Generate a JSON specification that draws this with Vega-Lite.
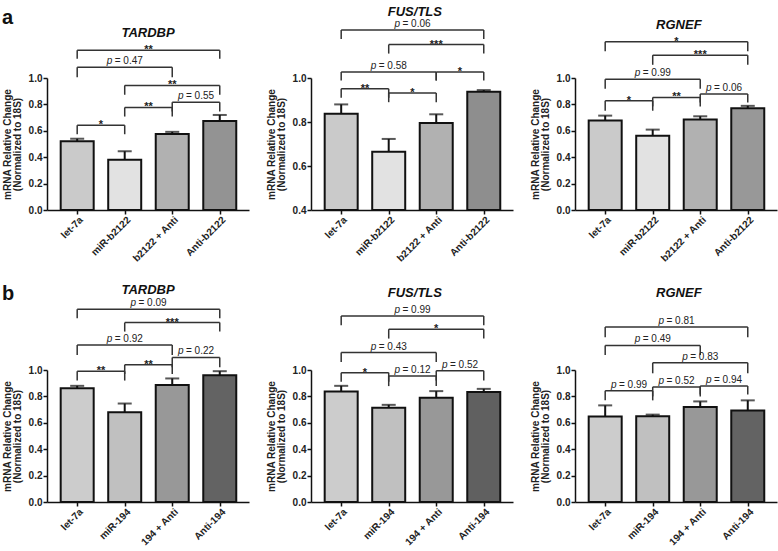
{
  "$schema": "https://vega.github.io/schema/vega-lite/v6.json",
  "padding": {"left": 2, "top": 6, "right": 2, "bottom": 2},
  "config": {
    "font": "Liberation Sans",
    "view": {"stroke": null},
    "axis": {"grid": false, "domainColor": "#111", "tickColor": "#111", "domainWidth": 1.5, "tickWidth": 1.5, "labelColor": "#222", "titleColor": "#222", "labelOverlap": false},
    "title": {"color": "#111"}
  },
  "datasets": {
    "bars": [
      {"panel": "a1", "g": 1, "grp": "let-7a", "m": 0.52, "hi": 0.54},
      {"panel": "a1", "g": 2, "grp": "miR-b2122", "m": 0.38, "hi": 0.445},
      {"panel": "a1", "g": 3, "grp": "b2122 + Anti", "m": 0.575, "hi": 0.592},
      {"panel": "a1", "g": 4, "grp": "Anti-b2122", "m": 0.675, "hi": 0.72},
      {"panel": "a2", "g": 1, "grp": "let-7a", "m": 0.837, "hi": 0.88},
      {"panel": "a2", "g": 2, "grp": "miR-b2122", "m": 0.665, "hi": 0.723},
      {"panel": "a2", "g": 3, "grp": "b2122 + Anti", "m": 0.795, "hi": 0.835},
      {"panel": "a2", "g": 4, "grp": "Anti-b2122", "m": 0.938, "hi": 0.945},
      {"panel": "a3", "g": 1, "grp": "let-7a", "m": 0.678, "hi": 0.715},
      {"panel": "a3", "g": 2, "grp": "miR-b2122", "m": 0.563, "hi": 0.609},
      {"panel": "a3", "g": 3, "grp": "b2122 + Anti", "m": 0.685, "hi": 0.71},
      {"panel": "a3", "g": 4, "grp": "Anti-b2122", "m": 0.77, "hi": 0.789},
      {"panel": "b1", "g": 1, "grp": "let-7a", "m": 0.862, "hi": 0.88},
      {"panel": "b1", "g": 2, "grp": "miR-194", "m": 0.68, "hi": 0.746},
      {"panel": "b1", "g": 3, "grp": "194 + Anti", "m": 0.886, "hi": 0.936},
      {"panel": "b1", "g": 4, "grp": "Anti-194", "m": 0.96, "hi": 0.991},
      {"panel": "b2", "g": 1, "grp": "let-7a", "m": 0.838, "hi": 0.88},
      {"panel": "b2", "g": 2, "grp": "miR-194", "m": 0.714, "hi": 0.736},
      {"panel": "b2", "g": 3, "grp": "194 + Anti", "m": 0.79, "hi": 0.84},
      {"panel": "b2", "g": 4, "grp": "Anti-194", "m": 0.834, "hi": 0.857},
      {"panel": "b3", "g": 1, "grp": "let-7a", "m": 0.648, "hi": 0.732},
      {"panel": "b3", "g": 2, "grp": "miR-194", "m": 0.65, "hi": 0.662},
      {"panel": "b3", "g": 3, "grp": "194 + Anti", "m": 0.719, "hi": 0.762},
      {"panel": "b3", "g": 4, "grp": "Anti-194", "m": 0.694, "hi": 0.77}
    ],
    "br": [
      {"panel": "a1", "id": 1, "from": 1, "to": 4, "h": 1.21, "low": 1.145, "p": "", "lab": "**"},
      {"panel": "a1", "id": 2, "from": 1, "to": 3, "h": 1.081, "low": 1.005, "p": "p", "lab": "= 0.47"},
      {"panel": "a1", "id": 3, "from": 2, "to": 4, "h": 0.944, "low": 0.873, "p": "", "lab": "**"},
      {"panel": "a1", "id": 4, "from": 3, "to": 4, "h": 0.817, "low": 0.746, "p": "p", "lab": "= 0.55"},
      {"panel": "a1", "id": 5, "from": 2, "to": 3, "h": 0.777, "low": 0.708, "p": "", "lab": "**"},
      {"panel": "a1", "id": 6, "from": 1, "to": 2, "h": 0.642, "low": 0.574, "p": "", "lab": "*"},
      {"panel": "a2", "id": 1, "from": 1, "to": 4, "h": 1.218, "low": 1.177, "p": "p", "lab": "= 0.06"},
      {"panel": "a2", "id": 2, "from": 2, "to": 4, "h": 1.152, "low": 1.111, "p": "", "lab": "***"},
      {"panel": "a2", "id": 3, "from": 1, "to": 3, "h": 1.027, "low": 0.989, "p": "p", "lab": "= 0.58"},
      {"panel": "a2", "id": 4, "from": 3, "to": 4, "h": 1.027, "low": 0.989, "p": "", "lab": "*"},
      {"panel": "a2", "id": 5, "from": 1, "to": 2, "h": 0.951, "low": 0.91, "p": "", "lab": "**"},
      {"panel": "a2", "id": 6, "from": 2, "to": 3, "h": 0.932, "low": 0.89, "p": "", "lab": "*"},
      {"panel": "a3", "id": 1, "from": 1, "to": 4, "h": 1.274, "low": 1.203, "p": "", "lab": "*"},
      {"panel": "a3", "id": 2, "from": 2, "to": 4, "h": 1.173, "low": 1.1, "p": "", "lab": "***"},
      {"panel": "a3", "id": 3, "from": 1, "to": 3, "h": 0.99, "low": 0.919, "p": "p", "lab": "= 0.99"},
      {"panel": "a3", "id": 4, "from": 3, "to": 4, "h": 0.878, "low": 0.815, "p": "p", "lab": "= 0.06"},
      {"panel": "a3", "id": 5, "from": 1, "to": 2, "h": 0.828, "low": 0.752, "p": "", "lab": "*"},
      {"panel": "a3", "id": 6, "from": 2, "to": 3, "h": 0.853, "low": 0.785, "p": "", "lab": "**"},
      {"panel": "b1", "id": 1, "from": 1, "to": 4, "h": 1.461, "low": 1.392, "p": "p", "lab": "= 0.09"},
      {"panel": "b1", "id": 2, "from": 2, "to": 4, "h": 1.359, "low": 1.291, "p": "", "lab": "***"},
      {"panel": "b1", "id": 3, "from": 1, "to": 3, "h": 1.19, "low": 1.114, "p": "p", "lab": "= 0.92"},
      {"panel": "b1", "id": 4, "from": 3, "to": 4, "h": 1.095, "low": 1.02, "p": "p", "lab": "= 0.22"},
      {"panel": "b1", "id": 5, "from": 1, "to": 2, "h": 0.99, "low": 0.92, "p": "", "lab": "**"},
      {"panel": "b1", "id": 6, "from": 2, "to": 3, "h": 1.04, "low": 0.97, "p": "", "lab": "**"},
      {"panel": "b2", "id": 1, "from": 1, "to": 4, "h": 1.41, "low": 1.339, "p": "p", "lab": "= 0.99"},
      {"panel": "b2", "id": 2, "from": 2, "to": 4, "h": 1.309, "low": 1.238, "p": "", "lab": "*"},
      {"panel": "b2", "id": 3, "from": 1, "to": 3, "h": 1.132, "low": 1.061, "p": "p", "lab": "= 0.43"},
      {"panel": "b2", "id": 4, "from": 1, "to": 2, "h": 0.98, "low": 0.911, "p": "", "lab": "*"},
      {"panel": "b2", "id": 5, "from": 2, "to": 3, "h": 0.954, "low": 0.878, "p": "p", "lab": "= 0.12"},
      {"panel": "b2", "id": 6, "from": 3, "to": 4, "h": 0.995, "low": 0.92, "p": "p", "lab": "= 0.52"},
      {"panel": "b3", "id": 1, "from": 1, "to": 4, "h": 1.326, "low": 1.249, "p": "p", "lab": "= 0.81"},
      {"panel": "b3", "id": 2, "from": 1, "to": 3, "h": 1.186, "low": 1.114, "p": "p", "lab": "= 0.49"},
      {"panel": "b3", "id": 3, "from": 2, "to": 4, "h": 1.055, "low": 0.975, "p": "p", "lab": "= 0.83"},
      {"panel": "b3", "id": 4, "from": 1, "to": 2, "h": 0.842, "low": 0.77, "p": "p", "lab": "= 0.99"},
      {"panel": "b3", "id": 5, "from": 2, "to": 3, "h": 0.872, "low": 0.8, "p": "p", "lab": "= 0.52"},
      {"panel": "b3", "id": 6, "from": 3, "to": 4, "h": 0.878, "low": 0.814, "p": "p", "lab": "= 0.94"}
    ]
  },
  "columns": 3,
  "spacing": {"row": 160, "column": 62},
  "bounds": "flush",
  "resolve": {"scale": {"x": "independent", "y": "independent", "color": "independent"}},
  "concat": [
    {
      "width": 202, "height": 132,
      "title": {"text": "a", "anchor": "start", "frame": "bounds", "fontSize": 20, "fontWeight": "bold", "baseline": "alphabetic", "offset": -17},
      "resolve": {"axis": {"x": "independent", "y": "independent"}},
      "layer": [
        {"data": {"name": "bars"}, "transform": [{"filter": "datum.panel == 'a1'"}],
         "mark": {"type": "bar", "width": 33, "stroke": "#111", "strokeWidth": 2},
         "encoding": {"x": {"field": "g", "type": "quantitative", "scale": {"domain": [0.47, 4.51], "nice": false, "zero": false}, "axis": {"values": [1, 2, 3, 4], "labels": false, "title": null, "tickSize": 4}},
                      "y": {"field": "m", "type": "quantitative", "scale": {"domain": [0, 1], "nice": false, "zero": false}, "axis": {"values": [0, 0.2, 0.4, 0.6, 0.8, 1.0], "format": ".1f", "labelOverlap": false, "title": ["mRNA Relative Change", "(Normalized to 18S)"], "titleFontSize": 10, "titleFontWeight": "bold", "titleLineHeight": 10, "titlePadding": 6, "labelFontSize": 10, "labelFontWeight": "bold", "tickSize": 4, "labelPadding": 1}},
                      "color": {"field": "g", "type": "ordinal", "scale": {"domain": [1, 2, 3, 4], "range": ["#cacaca", "#e2e2e2", "#b1b1b1", "#939393"]}, "legend": null}}},
        {"data": {"name": "bars"}, "transform": [{"filter": "datum.panel == 'a1'"}],
         "mark": {"type": "rule", "color": "#111", "strokeWidth": 2},
         "encoding": {"x": {"field": "g", "type": "quantitative", "scale": {"domain": [0.47, 4.51], "nice": false, "zero": false}, "axis": null},
                      "y": {"field": "m", "type": "quantitative", "scale": {"domain": [0, 1], "nice": false, "zero": false}, "axis": null}, "y2": {"field": "hi"}}},
        {"data": {"name": "bars"}, "transform": [{"filter": "datum.panel == 'a1'"}],
         "mark": {"type": "tick", "orient": "horizontal", "size": 14, "thickness": 2, "color": "#111"},
         "encoding": {"x": {"field": "g", "type": "quantitative", "scale": {"domain": [0.47, 4.51], "nice": false, "zero": false}, "axis": null},
                      "y": {"field": "hi", "type": "quantitative", "scale": {"domain": [0, 1], "nice": false, "zero": false}, "axis": null}}},
        {"data": {"name": "bars"}, "transform": [{"filter": "datum.panel == 'a1'"}],
         "mark": {"type": "text", "angle": 315, "align": "right", "baseline": "middle", "dx": -3, "dy": 9, "fontSize": 10, "fontWeight": "bold", "color": "#222"},
         "encoding": {"x": {"field": "g", "type": "quantitative", "scale": {"domain": [0.47, 4.51], "nice": false, "zero": false}, "axis": null},
                      "y": {"datum": 0, "type": "quantitative", "scale": {"domain": [0, 1], "nice": false, "zero": false}, "axis": null},
                      "text": {"field": "grp"}}},
        {"data": {"name": "br"}, "transform": [{"filter": "datum.panel == 'a1'"}],
         "mark": {"type": "rule", "color": "#333", "strokeWidth": 1.5},
         "encoding": {"x": {"field": "from", "type": "quantitative", "scale": {"domain": [0.47, 4.51], "nice": false, "zero": false}, "axis": null}, "x2": {"field": "to"},
                      "y": {"field": "h", "type": "quantitative", "scale": {"domain": [0, 1], "nice": false, "zero": false}, "axis": null}}},
        {"data": {"name": "br"}, "transform": [{"filter": "datum.panel == 'a1'"}, {"fold": ["from", "to"], "as": ["end", "pos"]}],
         "mark": {"type": "rule", "color": "#333", "strokeWidth": 1.5},
         "encoding": {"x": {"field": "pos", "type": "quantitative", "scale": {"domain": [0.47, 4.51], "nice": false, "zero": false}, "axis": null},
                      "y": {"field": "h", "type": "quantitative", "scale": {"domain": [0, 1], "nice": false, "zero": false}, "axis": null}, "y2": {"field": "low"}}},
        {"data": {"name": "br"}, "transform": [{"filter": "datum.panel == 'a1'"}, {"fold": ["from", "to"], "as": ["end", "pos"]}, {"aggregate": [{"op": "mean", "field": "pos", "as": "mid"}], "groupby": ["id", "p", "lab", "h"]}],
         "encoding": {"x": {"field": "mid", "type": "quantitative", "scale": {"domain": [0.47, 4.51], "nice": false, "zero": false}, "axis": null},
                      "y": {"field": "h", "type": "quantitative", "scale": {"domain": [0, 1], "nice": false, "zero": false}, "axis": null}},
         "layer": [
           {"transform": [{"filter": "datum.p == ''"}], "mark": {"type": "text", "fontSize": 11, "fontWeight": "bold", "baseline": "alphabetic", "dy": 3, "color": "#222"}, "encoding": {"text": {"field": "lab"}}},
           {"transform": [{"filter": "datum.p == 'p'"}], "mark": {"type": "text", "fontSize": 10, "fontStyle": "italic", "align": "right", "baseline": "alphabetic", "dx": -12.5, "dy": -3, "color": "#222"}, "encoding": {"text": {"field": "p"}}},
           {"transform": [{"filter": "datum.p == 'p'"}], "mark": {"type": "text", "fontSize": 10, "align": "left", "baseline": "alphabetic", "dx": -10, "dy": -3, "color": "#222"}, "encoding": {"text": {"field": "lab"}}}
         ]},
        {"data": {"values": [{"gene": "TARDBP"}]},
         "mark": {"type": "text", "fontSize": 13, "fontStyle": "italic", "fontWeight": "bold", "baseline": "middle", "color": "#111"},
         "encoding": {"x": {"datum": 2.49, "type": "quantitative", "scale": {"domain": [0.47, 4.51], "nice": false, "zero": false}, "axis": null},
                      "y": {"datum": 1.34, "type": "quantitative", "scale": {"domain": [0, 1], "nice": false, "zero": false}, "axis": null},
                      "text": {"field": "gene"}}}
      ]
    },
    {
      "width": 202, "height": 132,
      "resolve": {"axis": {"x": "independent", "y": "independent"}},
      "layer": [
        {"data": {"name": "bars"}, "transform": [{"filter": "datum.panel == 'a2'"}],
         "mark": {"type": "bar", "width": 33, "stroke": "#111", "strokeWidth": 2},
         "encoding": {"x": {"field": "g", "type": "quantitative", "scale": {"domain": [0.47, 4.51], "nice": false, "zero": false}, "axis": {"values": [1, 2, 3, 4], "labels": false, "title": null, "tickSize": 4}},
                      "y": {"field": "m", "type": "quantitative", "scale": {"domain": [0.4, 1], "nice": false, "zero": false}, "axis": {"values": [0.4, 0.6, 0.8, 1.0], "format": ".1f", "labelOverlap": false, "title": ["mRNA Relative Change", "(Normalized to 18S)"], "titleFontSize": 10, "titleFontWeight": "bold", "titleLineHeight": 10, "titlePadding": 6, "labelFontSize": 10, "labelFontWeight": "bold", "tickSize": 4, "labelPadding": 1}},
                      "y2": {"datum": 0.4},
                      "color": {"field": "g", "type": "ordinal", "scale": {"domain": [1, 2, 3, 4], "range": ["#cacaca", "#e2e2e2", "#b1b1b1", "#8e8e8e"]}, "legend": null}}},
        {"data": {"name": "bars"}, "transform": [{"filter": "datum.panel == 'a2'"}],
         "mark": {"type": "rule", "color": "#111", "strokeWidth": 2},
         "encoding": {"x": {"field": "g", "type": "quantitative", "scale": {"domain": [0.47, 4.51], "nice": false, "zero": false}, "axis": null},
                      "y": {"field": "m", "type": "quantitative", "scale": {"domain": [0.4, 1], "nice": false, "zero": false}, "axis": null}, "y2": {"field": "hi"}}},
        {"data": {"name": "bars"}, "transform": [{"filter": "datum.panel == 'a2'"}],
         "mark": {"type": "tick", "orient": "horizontal", "size": 14, "thickness": 2, "color": "#111"},
         "encoding": {"x": {"field": "g", "type": "quantitative", "scale": {"domain": [0.47, 4.51], "nice": false, "zero": false}, "axis": null},
                      "y": {"field": "hi", "type": "quantitative", "scale": {"domain": [0.4, 1], "nice": false, "zero": false}, "axis": null}}},
        {"data": {"name": "bars"}, "transform": [{"filter": "datum.panel == 'a2'"}],
         "mark": {"type": "text", "angle": 315, "align": "right", "baseline": "middle", "dx": -3, "dy": 9, "fontSize": 10, "fontWeight": "bold", "color": "#222"},
         "encoding": {"x": {"field": "g", "type": "quantitative", "scale": {"domain": [0.47, 4.51], "nice": false, "zero": false}, "axis": null},
                      "y": {"datum": 0.4, "type": "quantitative", "scale": {"domain": [0.4, 1], "nice": false, "zero": false}, "axis": null},
                      "text": {"field": "grp"}}},
        {"data": {"name": "br"}, "transform": [{"filter": "datum.panel == 'a2'"}],
         "mark": {"type": "rule", "color": "#333", "strokeWidth": 1.5},
         "encoding": {"x": {"field": "from", "type": "quantitative", "scale": {"domain": [0.47, 4.51], "nice": false, "zero": false}, "axis": null}, "x2": {"field": "to"},
                      "y": {"field": "h", "type": "quantitative", "scale": {"domain": [0.4, 1], "nice": false, "zero": false}, "axis": null}}},
        {"data": {"name": "br"}, "transform": [{"filter": "datum.panel == 'a2'"}, {"fold": ["from", "to"], "as": ["end", "pos"]}],
         "mark": {"type": "rule", "color": "#333", "strokeWidth": 1.5},
         "encoding": {"x": {"field": "pos", "type": "quantitative", "scale": {"domain": [0.47, 4.51], "nice": false, "zero": false}, "axis": null},
                      "y": {"field": "h", "type": "quantitative", "scale": {"domain": [0.4, 1], "nice": false, "zero": false}, "axis": null}, "y2": {"field": "low"}}},
        {"data": {"name": "br"}, "transform": [{"filter": "datum.panel == 'a2'"}, {"fold": ["from", "to"], "as": ["end", "pos"]}, {"aggregate": [{"op": "mean", "field": "pos", "as": "mid"}], "groupby": ["id", "p", "lab", "h"]}],
         "encoding": {"x": {"field": "mid", "type": "quantitative", "scale": {"domain": [0.47, 4.51], "nice": false, "zero": false}, "axis": null},
                      "y": {"field": "h", "type": "quantitative", "scale": {"domain": [0.4, 1], "nice": false, "zero": false}, "axis": null}},
         "layer": [
           {"transform": [{"filter": "datum.p == ''"}], "mark": {"type": "text", "fontSize": 11, "fontWeight": "bold", "baseline": "alphabetic", "dy": 3, "color": "#222"}, "encoding": {"text": {"field": "lab"}}},
           {"transform": [{"filter": "datum.p == 'p'"}], "mark": {"type": "text", "fontSize": 10, "fontStyle": "italic", "align": "right", "baseline": "alphabetic", "dx": -12.5, "dy": -3, "color": "#222"}, "encoding": {"text": {"field": "p"}}},
           {"transform": [{"filter": "datum.p == 'p'"}], "mark": {"type": "text", "fontSize": 10, "align": "left", "baseline": "alphabetic", "dx": -10, "dy": -3, "color": "#222"}, "encoding": {"text": {"field": "lab"}}}
         ]},
        {"data": {"values": [{"gene": "FUS/TLS"}]},
         "mark": {"type": "text", "fontSize": 13, "fontStyle": "italic", "fontWeight": "bold", "baseline": "middle", "color": "#111"},
         "encoding": {"x": {"datum": 2.55, "type": "quantitative", "scale": {"domain": [0.47, 4.51], "nice": false, "zero": false}, "axis": null},
                      "y": {"datum": 1.3, "type": "quantitative", "scale": {"domain": [0.4, 1], "nice": false, "zero": false}, "axis": null},
                      "text": {"field": "gene"}}}
      ]
    },
    {
      "width": 202, "height": 132,
      "resolve": {"axis": {"x": "independent", "y": "independent"}},
      "layer": [
        {"data": {"name": "bars"}, "transform": [{"filter": "datum.panel == 'a3'"}],
         "mark": {"type": "bar", "width": 33, "stroke": "#111", "strokeWidth": 2},
         "encoding": {"x": {"field": "g", "type": "quantitative", "scale": {"domain": [0.47, 4.51], "nice": false, "zero": false}, "axis": {"values": [1, 2, 3, 4], "labels": false, "title": null, "tickSize": 4}},
                      "y": {"field": "m", "type": "quantitative", "scale": {"domain": [0, 1], "nice": false, "zero": false}, "axis": {"values": [0, 0.2, 0.4, 0.6, 0.8, 1.0], "format": ".1f", "labelOverlap": false, "title": ["mRNA Relative Change", "(Normalized to 18S)"], "titleFontSize": 10, "titleFontWeight": "bold", "titleLineHeight": 10, "titlePadding": 6, "labelFontSize": 10, "labelFontWeight": "bold", "tickSize": 4, "labelPadding": 1}},
                      "color": {"field": "g", "type": "ordinal", "scale": {"domain": [1, 2, 3, 4], "range": ["#cacaca", "#e2e2e2", "#b1b1b1", "#989898"]}, "legend": null}}},
        {"data": {"name": "bars"}, "transform": [{"filter": "datum.panel == 'a3'"}],
         "mark": {"type": "rule", "color": "#111", "strokeWidth": 2},
         "encoding": {"x": {"field": "g", "type": "quantitative", "scale": {"domain": [0.47, 4.51], "nice": false, "zero": false}, "axis": null},
                      "y": {"field": "m", "type": "quantitative", "scale": {"domain": [0, 1], "nice": false, "zero": false}, "axis": null}, "y2": {"field": "hi"}}},
        {"data": {"name": "bars"}, "transform": [{"filter": "datum.panel == 'a3'"}],
         "mark": {"type": "tick", "orient": "horizontal", "size": 14, "thickness": 2, "color": "#111"},
         "encoding": {"x": {"field": "g", "type": "quantitative", "scale": {"domain": [0.47, 4.51], "nice": false, "zero": false}, "axis": null},
                      "y": {"field": "hi", "type": "quantitative", "scale": {"domain": [0, 1], "nice": false, "zero": false}, "axis": null}}},
        {"data": {"name": "bars"}, "transform": [{"filter": "datum.panel == 'a3'"}],
         "mark": {"type": "text", "angle": 315, "align": "right", "baseline": "middle", "dx": -3, "dy": 9, "fontSize": 10, "fontWeight": "bold", "color": "#222"},
         "encoding": {"x": {"field": "g", "type": "quantitative", "scale": {"domain": [0.47, 4.51], "nice": false, "zero": false}, "axis": null},
                      "y": {"datum": 0, "type": "quantitative", "scale": {"domain": [0, 1], "nice": false, "zero": false}, "axis": null},
                      "text": {"field": "grp"}}},
        {"data": {"name": "br"}, "transform": [{"filter": "datum.panel == 'a3'"}],
         "mark": {"type": "rule", "color": "#333", "strokeWidth": 1.5},
         "encoding": {"x": {"field": "from", "type": "quantitative", "scale": {"domain": [0.47, 4.51], "nice": false, "zero": false}, "axis": null}, "x2": {"field": "to"},
                      "y": {"field": "h", "type": "quantitative", "scale": {"domain": [0, 1], "nice": false, "zero": false}, "axis": null}}},
        {"data": {"name": "br"}, "transform": [{"filter": "datum.panel == 'a3'"}, {"fold": ["from", "to"], "as": ["end", "pos"]}],
         "mark": {"type": "rule", "color": "#333", "strokeWidth": 1.5},
         "encoding": {"x": {"field": "pos", "type": "quantitative", "scale": {"domain": [0.47, 4.51], "nice": false, "zero": false}, "axis": null},
                      "y": {"field": "h", "type": "quantitative", "scale": {"domain": [0, 1], "nice": false, "zero": false}, "axis": null}, "y2": {"field": "low"}}},
        {"data": {"name": "br"}, "transform": [{"filter": "datum.panel == 'a3'"}, {"fold": ["from", "to"], "as": ["end", "pos"]}, {"aggregate": [{"op": "mean", "field": "pos", "as": "mid"}], "groupby": ["id", "p", "lab", "h"]}],
         "encoding": {"x": {"field": "mid", "type": "quantitative", "scale": {"domain": [0.47, 4.51], "nice": false, "zero": false}, "axis": null},
                      "y": {"field": "h", "type": "quantitative", "scale": {"domain": [0, 1], "nice": false, "zero": false}, "axis": null}},
         "layer": [
           {"transform": [{"filter": "datum.p == ''"}], "mark": {"type": "text", "fontSize": 11, "fontWeight": "bold", "baseline": "alphabetic", "dy": 3, "color": "#222"}, "encoding": {"text": {"field": "lab"}}},
           {"transform": [{"filter": "datum.p == 'p'"}], "mark": {"type": "text", "fontSize": 10, "fontStyle": "italic", "align": "right", "baseline": "alphabetic", "dx": -12.5, "dy": -3, "color": "#222"}, "encoding": {"text": {"field": "p"}}},
           {"transform": [{"filter": "datum.p == 'p'"}], "mark": {"type": "text", "fontSize": 10, "align": "left", "baseline": "alphabetic", "dx": -10, "dy": -3, "color": "#222"}, "encoding": {"text": {"field": "lab"}}}
         ]},
        {"data": {"values": [{"gene": "RGNEF"}]},
         "mark": {"type": "text", "fontSize": 13, "fontStyle": "italic", "fontWeight": "bold", "baseline": "middle", "color": "#111"},
         "encoding": {"x": {"datum": 2.55, "type": "quantitative", "scale": {"domain": [0.47, 4.51], "nice": false, "zero": false}, "axis": null},
                      "y": {"datum": 1.4, "type": "quantitative", "scale": {"domain": [0, 1], "nice": false, "zero": false}, "axis": null},
                      "text": {"field": "gene"}}}
      ]
    },
    {
      "width": 202, "height": 132,
      "title": {"text": "b", "anchor": "start", "frame": "bounds", "fontSize": 20, "fontWeight": "bold", "baseline": "alphabetic", "offset": -36},
      "resolve": {"axis": {"x": "independent", "y": "independent"}},
      "layer": [
        {"data": {"name": "bars"}, "transform": [{"filter": "datum.panel == 'b1'"}],
         "mark": {"type": "bar", "width": 33, "stroke": "#111", "strokeWidth": 2},
         "encoding": {"x": {"field": "g", "type": "quantitative", "scale": {"domain": [0.47, 4.51], "nice": false, "zero": false}, "axis": {"values": [1, 2, 3, 4], "labels": false, "title": null, "tickSize": 4}},
                      "y": {"field": "m", "type": "quantitative", "scale": {"domain": [0, 1], "nice": false, "zero": false}, "axis": {"values": [0, 0.2, 0.4, 0.6, 0.8, 1.0], "format": ".1f", "labelOverlap": false, "title": ["mRNA Relative Change", "(Normalized to 18S)"], "titleFontSize": 10, "titleFontWeight": "bold", "titleLineHeight": 10, "titlePadding": 6, "labelFontSize": 10, "labelFontWeight": "bold", "tickSize": 4, "labelPadding": 1}},
                      "color": {"field": "g", "type": "ordinal", "scale": {"domain": [1, 2, 3, 4], "range": ["#cccccc", "#c0c0c0", "#989898", "#636363"]}, "legend": null}}},
        {"data": {"name": "bars"}, "transform": [{"filter": "datum.panel == 'b1'"}],
         "mark": {"type": "rule", "color": "#111", "strokeWidth": 2},
         "encoding": {"x": {"field": "g", "type": "quantitative", "scale": {"domain": [0.47, 4.51], "nice": false, "zero": false}, "axis": null},
                      "y": {"field": "m", "type": "quantitative", "scale": {"domain": [0, 1], "nice": false, "zero": false}, "axis": null}, "y2": {"field": "hi"}}},
        {"data": {"name": "bars"}, "transform": [{"filter": "datum.panel == 'b1'"}],
         "mark": {"type": "tick", "orient": "horizontal", "size": 14, "thickness": 2, "color": "#111"},
         "encoding": {"x": {"field": "g", "type": "quantitative", "scale": {"domain": [0.47, 4.51], "nice": false, "zero": false}, "axis": null},
                      "y": {"field": "hi", "type": "quantitative", "scale": {"domain": [0, 1], "nice": false, "zero": false}, "axis": null}}},
        {"data": {"name": "bars"}, "transform": [{"filter": "datum.panel == 'b1'"}],
         "mark": {"type": "text", "angle": 315, "align": "right", "baseline": "middle", "dx": -3, "dy": 9, "fontSize": 10, "fontWeight": "bold", "color": "#222"},
         "encoding": {"x": {"field": "g", "type": "quantitative", "scale": {"domain": [0.47, 4.51], "nice": false, "zero": false}, "axis": null},
                      "y": {"datum": 0, "type": "quantitative", "scale": {"domain": [0, 1], "nice": false, "zero": false}, "axis": null},
                      "text": {"field": "grp"}}},
        {"data": {"name": "br"}, "transform": [{"filter": "datum.panel == 'b1'"}],
         "mark": {"type": "rule", "color": "#333", "strokeWidth": 1.5},
         "encoding": {"x": {"field": "from", "type": "quantitative", "scale": {"domain": [0.47, 4.51], "nice": false, "zero": false}, "axis": null}, "x2": {"field": "to"},
                      "y": {"field": "h", "type": "quantitative", "scale": {"domain": [0, 1], "nice": false, "zero": false}, "axis": null}}},
        {"data": {"name": "br"}, "transform": [{"filter": "datum.panel == 'b1'"}, {"fold": ["from", "to"], "as": ["end", "pos"]}],
         "mark": {"type": "rule", "color": "#333", "strokeWidth": 1.5},
         "encoding": {"x": {"field": "pos", "type": "quantitative", "scale": {"domain": [0.47, 4.51], "nice": false, "zero": false}, "axis": null},
                      "y": {"field": "h", "type": "quantitative", "scale": {"domain": [0, 1], "nice": false, "zero": false}, "axis": null}, "y2": {"field": "low"}}},
        {"data": {"name": "br"}, "transform": [{"filter": "datum.panel == 'b1'"}, {"fold": ["from", "to"], "as": ["end", "pos"]}, {"aggregate": [{"op": "mean", "field": "pos", "as": "mid"}], "groupby": ["id", "p", "lab", "h"]}],
         "encoding": {"x": {"field": "mid", "type": "quantitative", "scale": {"domain": [0.47, 4.51], "nice": false, "zero": false}, "axis": null},
                      "y": {"field": "h", "type": "quantitative", "scale": {"domain": [0, 1], "nice": false, "zero": false}, "axis": null}},
         "layer": [
           {"transform": [{"filter": "datum.p == ''"}], "mark": {"type": "text", "fontSize": 11, "fontWeight": "bold", "baseline": "alphabetic", "dy": 3, "color": "#222"}, "encoding": {"text": {"field": "lab"}}},
           {"transform": [{"filter": "datum.p == 'p'"}], "mark": {"type": "text", "fontSize": 10, "fontStyle": "italic", "align": "right", "baseline": "alphabetic", "dx": -12.5, "dy": -3, "color": "#222"}, "encoding": {"text": {"field": "p"}}},
           {"transform": [{"filter": "datum.p == 'p'"}], "mark": {"type": "text", "fontSize": 10, "align": "left", "baseline": "alphabetic", "dx": -10, "dy": -3, "color": "#222"}, "encoding": {"text": {"field": "lab"}}}
         ]},
        {"data": {"values": [{"gene": "TARDBP"}]},
         "mark": {"type": "text", "fontSize": 13, "fontStyle": "italic", "fontWeight": "bold", "baseline": "middle", "color": "#111"},
         "encoding": {"x": {"datum": 2.49, "type": "quantitative", "scale": {"domain": [0.47, 4.51], "nice": false, "zero": false}, "axis": null},
                      "y": {"datum": 1.605, "type": "quantitative", "scale": {"domain": [0, 1], "nice": false, "zero": false}, "axis": null},
                      "text": {"field": "gene"}}}
      ]
    },
    {
      "width": 202, "height": 132,
      "resolve": {"axis": {"x": "independent", "y": "independent"}},
      "layer": [
        {"data": {"name": "bars"}, "transform": [{"filter": "datum.panel == 'b2'"}],
         "mark": {"type": "bar", "width": 33, "stroke": "#111", "strokeWidth": 2},
         "encoding": {"x": {"field": "g", "type": "quantitative", "scale": {"domain": [0.47, 4.51], "nice": false, "zero": false}, "axis": {"values": [1, 2, 3, 4], "labels": false, "title": null, "tickSize": 4}},
                      "y": {"field": "m", "type": "quantitative", "scale": {"domain": [0, 1], "nice": false, "zero": false}, "axis": {"values": [0, 0.2, 0.4, 0.6, 0.8, 1.0], "format": ".1f", "labelOverlap": false, "title": ["mRNA Relative Change", "(Normalized to 18S)"], "titleFontSize": 10, "titleFontWeight": "bold", "titleLineHeight": 10, "titlePadding": 6, "labelFontSize": 10, "labelFontWeight": "bold", "tickSize": 4, "labelPadding": 1}},
                      "color": {"field": "g", "type": "ordinal", "scale": {"domain": [1, 2, 3, 4], "range": ["#cccccc", "#c0c0c0", "#989898", "#606060"]}, "legend": null}}},
        {"data": {"name": "bars"}, "transform": [{"filter": "datum.panel == 'b2'"}],
         "mark": {"type": "rule", "color": "#111", "strokeWidth": 2},
         "encoding": {"x": {"field": "g", "type": "quantitative", "scale": {"domain": [0.47, 4.51], "nice": false, "zero": false}, "axis": null},
                      "y": {"field": "m", "type": "quantitative", "scale": {"domain": [0, 1], "nice": false, "zero": false}, "axis": null}, "y2": {"field": "hi"}}},
        {"data": {"name": "bars"}, "transform": [{"filter": "datum.panel == 'b2'"}],
         "mark": {"type": "tick", "orient": "horizontal", "size": 14, "thickness": 2, "color": "#111"},
         "encoding": {"x": {"field": "g", "type": "quantitative", "scale": {"domain": [0.47, 4.51], "nice": false, "zero": false}, "axis": null},
                      "y": {"field": "hi", "type": "quantitative", "scale": {"domain": [0, 1], "nice": false, "zero": false}, "axis": null}}},
        {"data": {"name": "bars"}, "transform": [{"filter": "datum.panel == 'b2'"}],
         "mark": {"type": "text", "angle": 315, "align": "right", "baseline": "middle", "dx": -3, "dy": 9, "fontSize": 10, "fontWeight": "bold", "color": "#222"},
         "encoding": {"x": {"field": "g", "type": "quantitative", "scale": {"domain": [0.47, 4.51], "nice": false, "zero": false}, "axis": null},
                      "y": {"datum": 0, "type": "quantitative", "scale": {"domain": [0, 1], "nice": false, "zero": false}, "axis": null},
                      "text": {"field": "grp"}}},
        {"data": {"name": "br"}, "transform": [{"filter": "datum.panel == 'b2'"}],
         "mark": {"type": "rule", "color": "#333", "strokeWidth": 1.5},
         "encoding": {"x": {"field": "from", "type": "quantitative", "scale": {"domain": [0.47, 4.51], "nice": false, "zero": false}, "axis": null}, "x2": {"field": "to"},
                      "y": {"field": "h", "type": "quantitative", "scale": {"domain": [0, 1], "nice": false, "zero": false}, "axis": null}}},
        {"data": {"name": "br"}, "transform": [{"filter": "datum.panel == 'b2'"}, {"fold": ["from", "to"], "as": ["end", "pos"]}],
         "mark": {"type": "rule", "color": "#333", "strokeWidth": 1.5},
         "encoding": {"x": {"field": "pos", "type": "quantitative", "scale": {"domain": [0.47, 4.51], "nice": false, "zero": false}, "axis": null},
                      "y": {"field": "h", "type": "quantitative", "scale": {"domain": [0, 1], "nice": false, "zero": false}, "axis": null}, "y2": {"field": "low"}}},
        {"data": {"name": "br"}, "transform": [{"filter": "datum.panel == 'b2'"}, {"fold": ["from", "to"], "as": ["end", "pos"]}, {"aggregate": [{"op": "mean", "field": "pos", "as": "mid"}], "groupby": ["id", "p", "lab", "h"]}],
         "encoding": {"x": {"field": "mid", "type": "quantitative", "scale": {"domain": [0.47, 4.51], "nice": false, "zero": false}, "axis": null},
                      "y": {"field": "h", "type": "quantitative", "scale": {"domain": [0, 1], "nice": false, "zero": false}, "axis": null}},
         "layer": [
           {"transform": [{"filter": "datum.p == ''"}], "mark": {"type": "text", "fontSize": 11, "fontWeight": "bold", "baseline": "alphabetic", "dy": 3, "color": "#222"}, "encoding": {"text": {"field": "lab"}}},
           {"transform": [{"filter": "datum.p == 'p'"}], "mark": {"type": "text", "fontSize": 10, "fontStyle": "italic", "align": "right", "baseline": "alphabetic", "dx": -12.5, "dy": -3, "color": "#222"}, "encoding": {"text": {"field": "p"}}},
           {"transform": [{"filter": "datum.p == 'p'"}], "mark": {"type": "text", "fontSize": 10, "align": "left", "baseline": "alphabetic", "dx": -10, "dy": -3, "color": "#222"}, "encoding": {"text": {"field": "lab"}}}
         ]},
        {"data": {"values": [{"gene": "FUS/TLS"}]},
         "mark": {"type": "text", "fontSize": 13, "fontStyle": "italic", "fontWeight": "bold", "baseline": "middle", "color": "#111"},
         "encoding": {"x": {"datum": 2.55, "type": "quantitative", "scale": {"domain": [0.47, 4.51], "nice": false, "zero": false}, "axis": null},
                      "y": {"datum": 1.58, "type": "quantitative", "scale": {"domain": [0, 1], "nice": false, "zero": false}, "axis": null},
                      "text": {"field": "gene"}}}
      ]
    },
    {
      "width": 202, "height": 132,
      "resolve": {"axis": {"x": "independent", "y": "independent"}},
      "layer": [
        {"data": {"name": "bars"}, "transform": [{"filter": "datum.panel == 'b3'"}],
         "mark": {"type": "bar", "width": 33, "stroke": "#111", "strokeWidth": 2},
         "encoding": {"x": {"field": "g", "type": "quantitative", "scale": {"domain": [0.47, 4.51], "nice": false, "zero": false}, "axis": {"values": [1, 2, 3, 4], "labels": false, "title": null, "tickSize": 4}},
                      "y": {"field": "m", "type": "quantitative", "scale": {"domain": [0, 1], "nice": false, "zero": false}, "axis": {"values": [0, 0.2, 0.4, 0.6, 0.8, 1.0], "format": ".1f", "labelOverlap": false, "title": ["mRNA Relative Change", "(Normalized to 18S)"], "titleFontSize": 10, "titleFontWeight": "bold", "titleLineHeight": 10, "titlePadding": 6, "labelFontSize": 10, "labelFontWeight": "bold", "tickSize": 4, "labelPadding": 1}},
                      "color": {"field": "g", "type": "ordinal", "scale": {"domain": [1, 2, 3, 4], "range": ["#cccccc", "#c0c0c0", "#989898", "#636363"]}, "legend": null}}},
        {"data": {"name": "bars"}, "transform": [{"filter": "datum.panel == 'b3'"}],
         "mark": {"type": "rule", "color": "#111", "strokeWidth": 2},
         "encoding": {"x": {"field": "g", "type": "quantitative", "scale": {"domain": [0.47, 4.51], "nice": false, "zero": false}, "axis": null},
                      "y": {"field": "m", "type": "quantitative", "scale": {"domain": [0, 1], "nice": false, "zero": false}, "axis": null}, "y2": {"field": "hi"}}},
        {"data": {"name": "bars"}, "transform": [{"filter": "datum.panel == 'b3'"}],
         "mark": {"type": "tick", "orient": "horizontal", "size": 14, "thickness": 2, "color": "#111"},
         "encoding": {"x": {"field": "g", "type": "quantitative", "scale": {"domain": [0.47, 4.51], "nice": false, "zero": false}, "axis": null},
                      "y": {"field": "hi", "type": "quantitative", "scale": {"domain": [0, 1], "nice": false, "zero": false}, "axis": null}}},
        {"data": {"name": "bars"}, "transform": [{"filter": "datum.panel == 'b3'"}],
         "mark": {"type": "text", "angle": 315, "align": "right", "baseline": "middle", "dx": -3, "dy": 9, "fontSize": 10, "fontWeight": "bold", "color": "#222"},
         "encoding": {"x": {"field": "g", "type": "quantitative", "scale": {"domain": [0.47, 4.51], "nice": false, "zero": false}, "axis": null},
                      "y": {"datum": 0, "type": "quantitative", "scale": {"domain": [0, 1], "nice": false, "zero": false}, "axis": null},
                      "text": {"field": "grp"}}},
        {"data": {"name": "br"}, "transform": [{"filter": "datum.panel == 'b3'"}],
         "mark": {"type": "rule", "color": "#333", "strokeWidth": 1.5},
         "encoding": {"x": {"field": "from", "type": "quantitative", "scale": {"domain": [0.47, 4.51], "nice": false, "zero": false}, "axis": null}, "x2": {"field": "to"},
                      "y": {"field": "h", "type": "quantitative", "scale": {"domain": [0, 1], "nice": false, "zero": false}, "axis": null}}},
        {"data": {"name": "br"}, "transform": [{"filter": "datum.panel == 'b3'"}, {"fold": ["from", "to"], "as": ["end", "pos"]}],
         "mark": {"type": "rule", "color": "#333", "strokeWidth": 1.5},
         "encoding": {"x": {"field": "pos", "type": "quantitative", "scale": {"domain": [0.47, 4.51], "nice": false, "zero": false}, "axis": null},
                      "y": {"field": "h", "type": "quantitative", "scale": {"domain": [0, 1], "nice": false, "zero": false}, "axis": null}, "y2": {"field": "low"}}},
        {"data": {"name": "br"}, "transform": [{"filter": "datum.panel == 'b3'"}, {"fold": ["from", "to"], "as": ["end", "pos"]}, {"aggregate": [{"op": "mean", "field": "pos", "as": "mid"}], "groupby": ["id", "p", "lab", "h"]}],
         "encoding": {"x": {"field": "mid", "type": "quantitative", "scale": {"domain": [0.47, 4.51], "nice": false, "zero": false}, "axis": null},
                      "y": {"field": "h", "type": "quantitative", "scale": {"domain": [0, 1], "nice": false, "zero": false}, "axis": null}},
         "layer": [
           {"transform": [{"filter": "datum.p == ''"}], "mark": {"type": "text", "fontSize": 11, "fontWeight": "bold", "baseline": "alphabetic", "dy": 3, "color": "#222"}, "encoding": {"text": {"field": "lab"}}},
           {"transform": [{"filter": "datum.p == 'p'"}], "mark": {"type": "text", "fontSize": 10, "fontStyle": "italic", "align": "right", "baseline": "alphabetic", "dx": -12.5, "dy": -3, "color": "#222"}, "encoding": {"text": {"field": "p"}}},
           {"transform": [{"filter": "datum.p == 'p'"}], "mark": {"type": "text", "fontSize": 10, "align": "left", "baseline": "alphabetic", "dx": -10, "dy": -3, "color": "#222"}, "encoding": {"text": {"field": "lab"}}}
         ]},
        {"data": {"values": [{"gene": "RGNEF"}]},
         "mark": {"type": "text", "fontSize": 13, "fontStyle": "italic", "fontWeight": "bold", "baseline": "middle", "color": "#111"},
         "encoding": {"x": {"datum": 2.55, "type": "quantitative", "scale": {"domain": [0.47, 4.51], "nice": false, "zero": false}, "axis": null},
                      "y": {"datum": 1.58, "type": "quantitative", "scale": {"domain": [0, 1], "nice": false, "zero": false}, "axis": null},
                      "text": {"field": "gene"}}}
      ]
    }
  ]
}
